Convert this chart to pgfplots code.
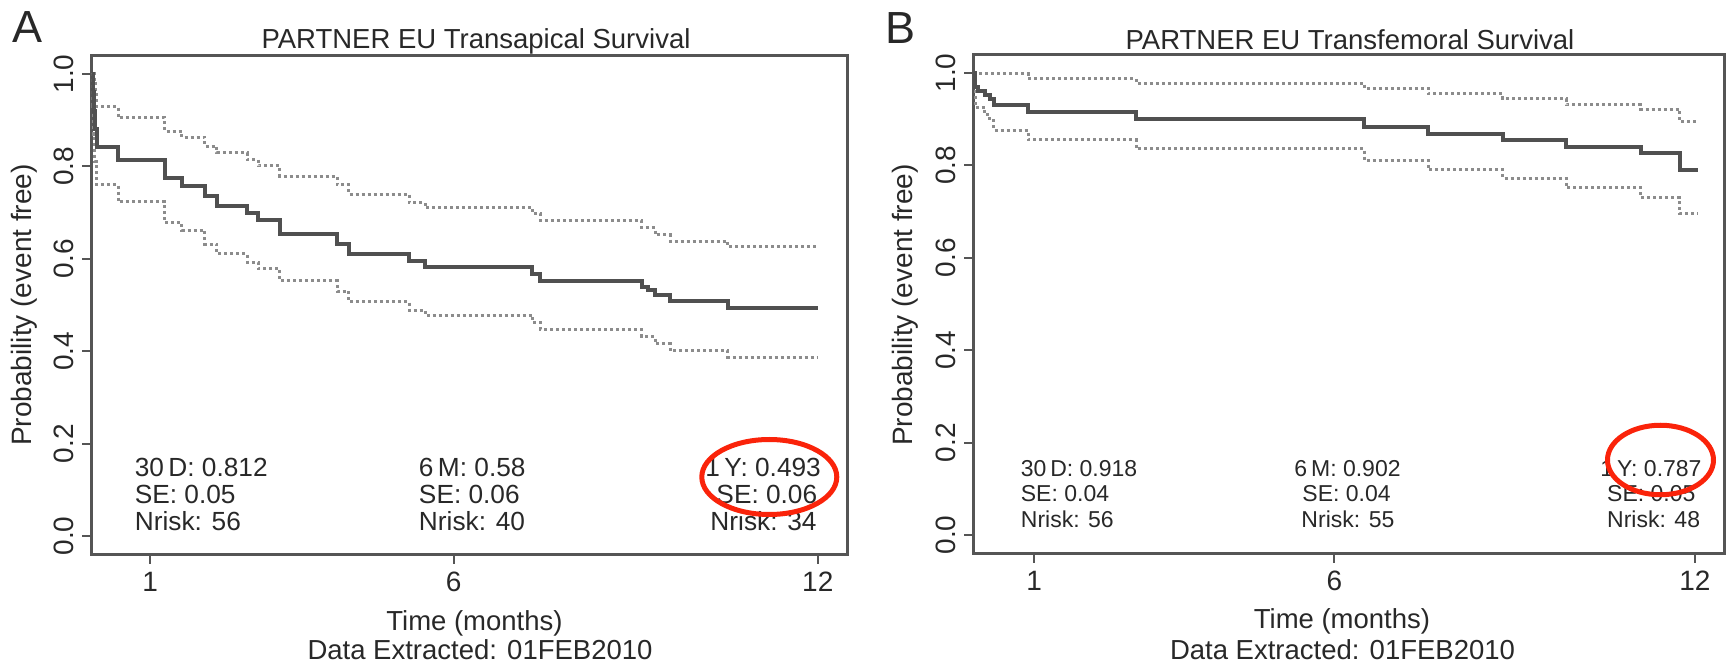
\documentclass[border=0pt]{standalone}
\usepackage{fontspec}
\setmainfont{Liberation Sans}
\usepackage{pgfplots}
\pgfplotsset{compat=1.18}
\definecolor{axgray}{RGB}{85,85,85}
\definecolor{kmdark}{RGB}{80,80,80}
\definecolor{cigray}{RGB}{140,140,140}
\definecolor{txt}{RGB}{40,40,40}
\definecolor{redcirc}{RGB}{250,35,10}
\pgfplotsset{
  kmaxis/.style={
    scale only axis,
    height=199.6pt,
    ymin=-0.04, ymax=1.04,
    xtick={1,6,12}, xticklabels={1,6,12},
    ytick={0,0.2,0.4,0.6,0.8,1}, yticklabels={0.0,0.2,0.4,0.6,0.8,1.0},
    tick align=outside, major tick length=3.6pt,
    tick pos=left,
    axis line style={line width=1.2pt, draw=axgray},
    every tick/.append style={line width=0.8pt, draw=axgray},
    tick label style={font=\fontsize{11.2}{13}\selectfont, text=txt},
    yticklabel style={rotate=90, anchor=south},
    clip=true,
  },
  kmmid/.style={const plot, no marks, line width=1.6pt, draw=kmdark},
  kmci/.style={const plot, no marks, line width=1.2pt, draw=cigray, dash pattern=on 1.2pt off 1.2pt},
}
\begin{document}
\begin{tikzpicture}
\path[use as bounding box] (0pt,0pt) rectangle (690.8pt,266pt);

% Panel A
\begin{axis}[kmaxis, at={(36.6pt,44.2pt)}, anchor=south west, width=302.4pt,
  xmin=0.035, xmax=12.49]
\addplot[kmci] coordinates {(0.04,1.000)(0.08,0.980)(0.10,0.955)(0.12,0.930)(0.475,0.906)(1.24,0.876)(1.52,0.863)(1.90,0.844)(2.10,0.829)(2.60,0.815)(2.78,0.801)(3.14,0.779)(4.08,0.760)(4.27,0.740)(5.27,0.722)(5.53,0.711)(7.30,0.697)(7.43,0.682)(9.10,0.667)(9.32,0.652)(9.57,0.638)(10.52,0.626)(12.00,0.626)};
\addplot[kmci] coordinates {(0.04,1.000)(0.05,0.930)(0.07,0.870)(0.09,0.810)(0.12,0.760)(0.475,0.724)(1.24,0.679)(1.52,0.662)(1.90,0.632)(2.10,0.611)(2.60,0.593)(2.78,0.579)(3.14,0.553)(4.08,0.530)(4.27,0.507)(5.27,0.489)(5.53,0.478)(7.30,0.462)(7.43,0.447)(9.10,0.432)(9.32,0.416)(9.57,0.401)(10.52,0.387)(12.00,0.387)};
\addplot[kmmid] coordinates {(0.04,1.000)(0.06,0.960)(0.08,0.920)(0.10,0.880)(0.12,0.843)(0.475,0.814)(1.24,0.775)(1.52,0.757)(1.90,0.735)(2.10,0.714)(2.60,0.700)(2.78,0.684)(3.14,0.654)(4.08,0.633)(4.27,0.611)(5.27,0.596)(5.53,0.582)(7.30,0.568)(7.43,0.553)(9.10,0.540)(9.20,0.533)(9.32,0.522)(9.57,0.509)(10.52,0.493)(12.00,0.493)};
\end{axis}

% Panel B
\begin{axis}[kmaxis, at={(389.36pt,44.6pt)}, anchor=south west, width=300.6pt,
  xmin=-0.01, xmax=12.50]
\addplot[kmci] coordinates {(0,1.000)(0.02,0.998)(0.90,0.988)(2.70,0.978)(6.50,0.967)(7.56,0.955)(8.80,0.944)(9.86,0.931)(11.10,0.921)(11.75,0.894)(12.05,0.894)};
\addplot[kmci] coordinates {(0,1.000)(0.02,0.926)(0.18,0.910)(0.26,0.897)(0.33,0.876)(0.90,0.856)(2.70,0.836)(6.50,0.811)(7.56,0.791)(8.80,0.772)(9.86,0.752)(11.10,0.730)(11.75,0.695)(12.05,0.695)};
\addplot[kmmid] coordinates {(0,1.000)(0.02,0.970)(0.07,0.962)(0.18,0.952)(0.26,0.944)(0.33,0.930)(0.90,0.916)(2.70,0.901)(6.50,0.883)(7.56,0.869)(8.80,0.854)(9.86,0.840)(11.10,0.826)(11.75,0.790)(12.05,0.790)};
\end{axis}

\begin{scope}[x=0.4pt,y=-0.4pt,shift={(0pt,266pt)}, every node/.style={text=txt}]
% panel letters
\node[font=\fontsize{18}{20}\selectfont] at (28,27.5) {A};
\node[font=\fontsize{18}{20}\selectfont] at (901,28) {B};
% titles
\node[anchor=base, font=\fontsize{11}{13}\selectfont] at (476,48) {PARTNER EU Transapical Survival};
\node[anchor=base, font=\fontsize{11}{13}\selectfont] at (1350,49.5) {PARTNER EU Transfemoral Survival};
% y labels
\node[rotate=90, font=\fontsize{11.2}{13}\selectfont] at (24.5,305) {Probability (event free)};
\node[rotate=90, font=\fontsize{11.2}{13}\selectfont] at (905,305) {Probability (event free)};
% x labels
\node[anchor=base, font=\fontsize{11}{13}\selectfont] at (474.5,631) {Time (months)};
\node[anchor=base, font=\fontsize{11}{13}\selectfont] at (480,660) {Data Extracted: 01FEB2010};
\node[anchor=base, font=\fontsize{11}{13}\selectfont] at (1342,629) {Time (months)};
\node[anchor=base, font=\fontsize{11}{13}\selectfont] at (1342.5,660) {Data Extracted: 01FEB2010};
% annotations A
\begin{scope}[every node/.style={anchor=base west, inner sep=0pt, text=txt, font=\fontsize{10.5}{12}\selectfont}]
\node at (134.4,477) {30\,D: 0.812};
\node at (134.4,504) {SE: 0.05};
\node at (134.4,530.7) {Nrisk: 56};
\node at (418.5,477) {6\,M: 0.58};
\node at (418.5,504) {SE: 0.06};
\node at (418.5,530.7) {Nrisk: 40};
\node at (705,477) {1\,Y: 0.493};
\node at (716,504) {SE: 0.06};
\node at (710,530.7) {Nrisk: 34};
\end{scope}
% annotations B
\begin{scope}[every node/.style={anchor=base west, inner sep=0pt, text=txt, font=\fontsize{9.2}{11}\selectfont}]
\node at (1020.4,476) {30\,D: 0.918};
\node at (1020.4,502) {SE: 0.04};
\node at (1020.4,528) {Nrisk: 56};
\node at (1294,476) {6\,M: 0.902};
\node at (1302,502) {SE: 0.04};
\node at (1301,528) {Nrisk: 55};
\node at (1600,476) {1\,Y: 0.787};
\node at (1606.7,502) {SE: 0.05};
\node at (1606.7,528) {Nrisk: 48};
\end{scope}
% red circles
\draw[redcirc, line width=2pt] (769.3,477) ellipse [x radius=27pt, y radius=15pt];
\draw[redcirc, line width=2pt] (1660.5,460) ellipse [x radius=21.2pt, y radius=13.9pt];
\end{scope}
\end{tikzpicture}
\end{document}
